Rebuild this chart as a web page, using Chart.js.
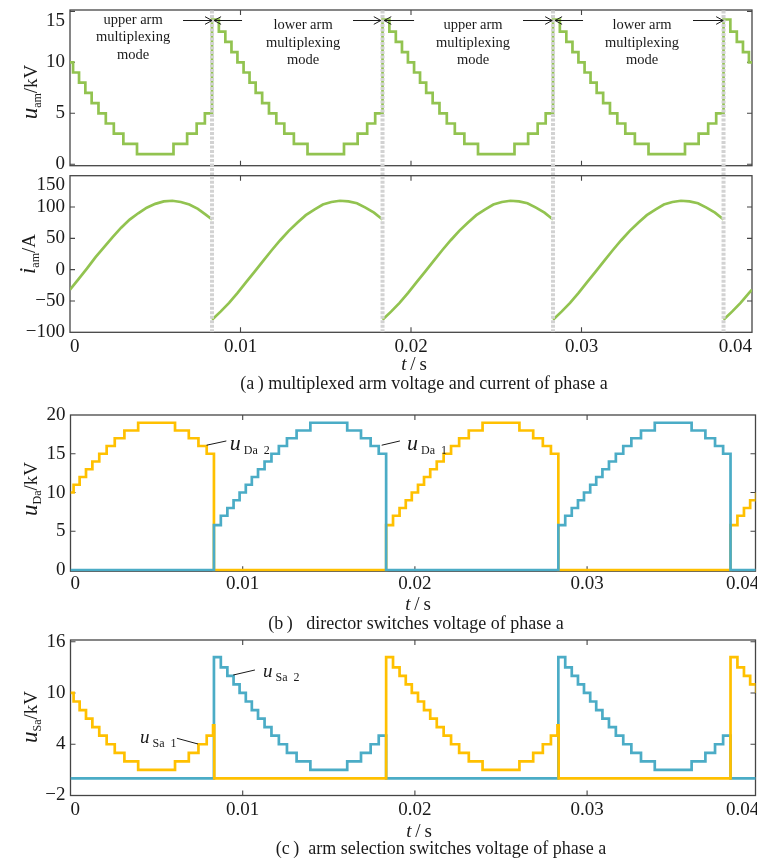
<!DOCTYPE html>
<html><head><meta charset="utf-8">
<script src="https://cdn.jsdelivr.net/npm/chart.js@4.4.1/dist/chart.umd.min.js"></script>
<style>
html,body{margin:0;padding:0;background:#fff;width:757px;height:859px;overflow:hidden;}
#wrap{position:relative;width:757px;height:859px;}
canvas{position:absolute;left:0;}
.txt{position:absolute;font-family:"Liberation Serif","Times New Roman",serif;color:#1a1a1a;white-space:nowrap;line-height:1;transform:translate(-50%,-50%);}
.ylab{position:absolute;font-family:"Liberation Serif","Times New Roman",serif;font-size:19px;color:#1a1a1a;white-space:nowrap;line-height:1;transform:translate(-50%,-50%) rotate(-90deg);}
.ylab i{font-size:23px;}
.ylab .sb{font-size:12px;position:relative;top:4px;}
</style></head>
<body>
<div id="wrap">
<canvas id="c1" style="top:0px" width="757" height="185"></canvas>
<canvas id="c2" style="top:160px" width="757" height="215"></canvas>
<canvas id="c3" style="top:395px" width="757" height="205"></canvas>
<canvas id="c4" style="top:625px" width="757" height="200"></canvas>

<div class="ylab" style="left:29px;top:92px"><i>u</i><span class="sb">am</span>/kV</div>
<div class="ylab" style="left:27px;top:254px"><i>i</i><span class="sb">am</span>/A</div>
<div class="ylab" style="left:29px;top:489px"><i>u</i><span class="sb">Da</span>/kV</div>
<div class="ylab" style="left:29px;top:717px"><i>u</i><span class="sb">Sa</span>/kV</div>

<div class="txt" style="left:414px;top:363px;font-size:19px"><i>t</i>&thinsp;/&thinsp;s</div>
<div class="txt" style="left:424px;top:383px;font-size:18px">(a&thinsp;) multiplexed arm voltage and current of phase a</div>
<div class="txt" style="left:418px;top:603px;font-size:19px"><i>t</i>&thinsp;/&thinsp;s</div>
<div class="txt" style="left:416px;top:623px;font-size:18px">(b&thinsp;) &nbsp; director switches voltage of phase a</div>
<div class="txt" style="left:419px;top:830px;font-size:19px"><i>t</i>&thinsp;/&thinsp;s</div>
<div class="txt" style="left:441px;top:848px;font-size:18px">(c&thinsp;) &nbsp;arm selection switches voltage of phase a</div>
</div>
<script>
// ---------------- data ----------------
const switchTimes = [0.00833, 0.01833, 0.02833, 0.03833];

const tAm = [0,0.00018,0.00053,0.00090,0.00127,0.00167,0.00210,0.00257,0.00313,0.00393,0.00607,0.00687,0.00743,0.00791,
 0.00833,0.00873,0.00911,0.00947,0.00982,0.01018,0.01053,0.01089,0.01127,0.01167,0.01210,0.01257,0.01313,0.01393,0.01607,0.01687,0.01743,0.01790,
 0.01833,0.01873,0.01911,0.01947,0.01982,0.02018,0.02053,0.02089,0.02127,0.02167,0.02210,0.02257,0.02313,0.02393,0.02607,0.02687,0.02743,0.02790,
 0.02833,0.02873,0.02911,0.02947,0.02982,0.03018,0.03053,0.03089,0.03127,0.03167,0.03210,0.03257,0.03313,0.03393,0.03607,0.03687,0.03743,0.03790,
 0.03833,0.03873,0.03911,0.03947,0.03982,0.04];
const uAm = [10,9,8,7,6,5,4,3,2,1,2,3,4,5,
 14.2,13,12,11,10,9,8,7,6,5,4,3,2,1,2,3,4,5,
 14.2,13,12,11,10,9,8,7,6,5,4,3,2,1,2,3,4,5,
 14.2,13,12,11,10,9,8,7,6,5,4,3,2,1,2,3,4,5,
 14.2,13,12,11,10,10];

const tI = [0,0.0005,0.001,0.0015,0.002,0.0025,0.003,0.0035,0.004,0.0045,0.005,0.0055,0.006,0.0065,0.007,0.0075,0.008,0.00833, 0.00833,
 0.00833,0.00883,0.00933,0.00983,0.01033,0.01083,0.01133,0.01183,0.01233,0.01283,0.01333,0.01383,0.01433,0.01483,0.01533,0.01583,0.01633,0.01683,0.01733,0.01783,0.01833, 0.01833,
 0.01833,0.01883,0.01933,0.01983,0.02033,0.02083,0.02133,0.02183,0.02233,0.02283,0.02333,0.02383,0.02433,0.02483,0.02533,0.02583,0.02633,0.02683,0.02733,0.02783,0.02833, 0.02833,
 0.02833,0.02883,0.02933,0.02983,0.03033,0.03083,0.03133,0.03183,0.03233,0.03283,0.03333,0.03383,0.03433,0.03483,0.03533,0.03583,0.03633,0.03683,0.03733,0.03783,0.03833, 0.03833,
 0.03833,0.03883,0.03933,0.03983,0.04];
const iAm = [-32,-15,2,20,36,52,67,80,90,99,105,109,110,108,104,97,87,80, null,
 -80,-67,-53,-37,-20,-3,14,31,47,62,75,87,96,104,108,110,109,106,99,91,80, null,
 -80,-67,-53,-37,-20,-3,14,31,47,62,75,87,96,104,108,110,109,106,99,91,80, null,
 -80,-67,-53,-37,-20,-3,14,31,47,62,75,87,96,104,108,110,109,106,99,91,80, null,
 -80,-67,-53,-37,-32];

const tDa2 = [0,0.00018,0.00053,0.00090,0.00127,0.00167,0.00210,0.00257,0.00313,0.00393,0.00607,0.00687,0.00743,0.00791,
 0.00833,
 0.01833,0.01873,0.01911,0.01947,0.01982,0.02018,0.02053,0.02089,0.02127,0.02167,0.02210,0.02257,0.02313,0.02393,0.02607,0.02687,0.02743,0.02790,
 0.02833,
 0.03833,0.03873,0.03911,0.03947,0.03982,0.04];
const uDa2 = [10,11,12,13,14,15,16,17,18,19,18,17,16,15,
 0,
 5.8,7,8,9,10,11,12,13,14,15,16,17,18,19,18,17,16,15,
 0,
 5.8,7,8,9,10,10];
const tDa1 = [0,
 0.00833,0.00873,0.00911,0.00947,0.00982,0.01018,0.01053,0.01089,0.01127,0.01167,0.01210,0.01257,0.01313,0.01393,0.01607,0.01687,0.01743,0.01790,
 0.01833,
 0.02833,0.02873,0.02911,0.02947,0.02982,0.03018,0.03053,0.03089,0.03127,0.03167,0.03210,0.03257,0.03313,0.03393,0.03607,0.03687,0.03743,0.03790,
 0.03833,0.04];
const uDa1 = [0,
 5.8,7,8,9,10,11,12,13,14,15,16,17,18,19,18,17,16,15,
 0,
 5.8,7,8,9,10,11,12,13,14,15,16,17,18,19,18,17,16,15,
 0,0];

const tSa1 = [0,0.00018,0.00053,0.00090,0.00127,0.00167,0.00210,0.00257,0.00313,0.00393,0.00607,0.00687,0.00743,0.00791,
 0.00828,0.00835,
 0.01833,0.01873,0.01911,0.01947,0.01982,0.02018,0.02053,0.02089,0.02127,0.02167,0.02210,0.02257,0.02313,0.02393,0.02607,0.02687,0.02743,0.02790,
 0.02828,0.02835,
 0.03833,0.03873,0.03911,0.03947,0.03982,0.04];
const uSa1 = [10,9,8,7,6,5,4,3,2,1,2,3,4,5,
 6.2,0,
 14.2,13,12,11,10,9,8,7,6,5,4,3,2,1,2,3,4,5,
 6.2,0,
 14.2,13,12,11,10,10];
const tSa2 = [0,
 0.00833,0.00873,0.00911,0.00947,0.00982,0.01018,0.01053,0.01089,0.01127,0.01167,0.01210,0.01257,0.01313,0.01393,0.01607,0.01687,0.01743,0.01790,
 0.01833,
 0.02833,0.02873,0.02911,0.02947,0.02982,0.03018,0.03053,0.03089,0.03127,0.03167,0.03210,0.03257,0.03313,0.03393,0.03607,0.03687,0.03743,0.03790,
 0.03833,0.04];
const uSa2 = [0,
 14.2,13,12,11,10,9,8,7,6,5,4,3,2,1,2,3,4,5,
 0,
 14.2,13,12,11,10,9,8,7,6,5,4,3,2,1,2,3,4,5,
 0,0];

const xTicks = [0, 0.01, 0.02, 0.03, 0.04];
const yTicksUam = [0, 5, 10, 15];
const yTicksIam = [-100, -50, 0, 50, 100, 150];
const yTicksDa = [0, 5, 10, 15, 20];
const yTicksSa = [-2, 4, 10, 16];

const modeLabels = [
  {t:0.0037,  lines:['upper arm','multiplexing','mode']},
  {t:0.01367, lines:['lower arm','multiplexing','mode']},
  {t:0.02364, lines:['upper arm','multiplexing','mode']},
  {t:0.03355, lines:['lower arm','multiplexing','mode']}
];

// ---------------- styles ----------------
const SERIF = '"Liberation Serif","Times New Roman",serif';
const GREEN = '#92c350', YELLOW = '#ffc000', BLUE = '#4bacc6', GRAY = '#d2d2d2';
const INK = '#1a1a1a';

// annotation layout (positions in data units, styles separate)
const annots = {
  c1: {
    texts: [
      {t:modeLabels[0].t, v:14.15, lines:modeLabels[0].lines},
      {t:modeLabels[1].t, v:13.6, lines:modeLabels[1].lines},
      {t:modeLabels[2].t, v:13.6, lines:modeLabels[2].lines},
      {t:modeLabels[3].t, v:13.6, lines:modeLabels[3].lines}
    ],
    arrows: [[0.00663,0.00833],[0.01009,0.00845],[0.0166,0.01823],[0.02018,0.01843],[0.02657,0.02828],[0.03009,0.02845],[0.03654,0.03831]],
    arrowV: 14.1
  },
  c3: {
    leaders: [[[0.0079,16.1],[0.00905,16.65]], [[0.01807,16.1],[0.01913,16.65]]],
    rich: [
      {t:0.00925, v:15.5, size:22, sub:'Da  2'},
      {t:0.01954, v:15.5, size:22, sub:'Da  1'}
    ]
  },
  c4: {
    leaders: [[[0.00945,12.1],[0.01071,12.69]], [[0.00618,4.7],[0.0074,4.03]]],
    rich: [
      {t:0.01118, v:11.87, size:19, sub:'Sa  2'},
      {t:0.00404, v:4.18, size:19, sub:'Sa  1'}
    ]
  }
};

// ---------------- plugins ----------------
const framePlugin = {
  id:'frame',
  beforeDatasetsDraw(chart){
    const {ctx, chartArea:a, scales:{x, y}} = chart;
    ctx.save();
    ctx.strokeStyle = '#454545';
    ctx.lineWidth = 1.3;
    ctx.strokeRect(a.left, a.top, a.right - a.left, a.bottom - a.top);
    ctx.lineWidth = 1.1;
    const L = 5;
    ctx.beginPath();
    x.ticks.forEach(tk => {
      const px = x.getPixelForValue(tk.value);
      if (px <= a.left + 1 || px >= a.right - 1) return;
      ctx.moveTo(px, a.bottom); ctx.lineTo(px, a.bottom - L);
      ctx.moveTo(px, a.top); ctx.lineTo(px, a.top + L);
    });
    y.ticks.forEach(tk => {
      const py = y.getPixelForValue(tk.value);
      if (py <= a.top + 1 || py >= a.bottom - 1) return;
      ctx.moveTo(a.left, py); ctx.lineTo(a.left + L, py);
      ctx.moveTo(a.right, py); ctx.lineTo(a.right - L, py);
    });
    ctx.stroke();
    ctx.restore();
  }
};

function drawArrow(ctx, x1, y1, x2, y2){
  const ang = Math.atan2(y2 - y1, x2 - x1), L = 8, W = 0.5;
  ctx.beginPath();
  ctx.moveTo(x1, y1); ctx.lineTo(x2, y2);
  ctx.moveTo(x2 - L*Math.cos(ang - W), y2 - L*Math.sin(ang - W));
  ctx.lineTo(x2, y2);
  ctx.lineTo(x2 - L*Math.cos(ang + W), y2 - L*Math.sin(ang + W));
  ctx.stroke();
}

const annotPlugin = {
  id:'annotDraw',
  afterDatasetsDraw(chart){
    const o = annots[chart.canvas.id];
    if (!o) return;
    const {ctx, scales:{x, y}} = chart;
    ctx.save();
    ctx.fillStyle = INK; ctx.strokeStyle = INK; ctx.lineWidth = 1;
    (o.texts || []).forEach(a => {
      ctx.font = '14.5px ' + SERIF;
      ctx.textAlign = 'center'; ctx.textBaseline = 'middle';
      const px = x.getPixelForValue(a.t), py = y.getPixelForValue(a.v);
      a.lines.forEach((ln, k) => ctx.fillText(ln, px, py + k*17.5));
    });
    (o.arrows || []).forEach(ar => {
      const py = y.getPixelForValue(o.arrowV);
      drawArrow(ctx, x.getPixelForValue(ar[0]), py, x.getPixelForValue(ar[1]), py);
    });
    (o.leaders || []).forEach(ld => {
      ctx.beginPath();
      ctx.moveTo(x.getPixelForValue(ld[0][0]), y.getPixelForValue(ld[0][1]));
      ctx.lineTo(x.getPixelForValue(ld[1][0]), y.getPixelForValue(ld[1][1]));
      ctx.stroke();
    });
    (o.rich || []).forEach(r => {
      let px = x.getPixelForValue(r.t);
      const py = y.getPixelForValue(r.v);
      ctx.textAlign = 'left'; ctx.textBaseline = 'alphabetic';
      ctx.font = 'italic ' + r.size + 'px ' + SERIF;
      ctx.fillText('u', px, py);
      px += ctx.measureText('u').width + 3;
      ctx.font = '12px ' + SERIF;
      ctx.fillText(r.sub, px, py + 4);
    });
    ctx.restore();
  }
};

// ---------------- helpers ----------------
function pts(ts, vs){ return ts.map((t, k) => ({x:t, y:vs[k]})); }
function stepDs(ts, vs, color){
  return {data:pts(ts, vs), borderColor:color, borderWidth:2.7, pointRadius:0, stepped:'before', fill:false};
}
function lineDs(ts, vs, color){
  return {data:pts(ts, vs), borderColor:color, borderWidth:2.7, pointRadius:0, tension:0, spanGaps:false, fill:false};
}
function grayDs(lo, hi, clip){
  return switchTimes.map(s => ({data:[{x:s, y:lo}, {x:s, y:hi}], borderColor:GRAY, borderWidth:4,
    borderDash:[3, 1.5], pointRadius:0, clip:clip}));
}
function fmtX(v){ return v === 0 ? '0' : v.toFixed(2); }
function fmtY(v){ return v < 0 ? '\u2212' + Math.abs(v) : String(v); }

function makeChart(id, o){
  return new Chart(document.getElementById(id), {
    type:'line',
    data:{datasets:o.datasets},
    options:{
      responsive:false, animation:false, events:[],
      layout:{padding:o.padding},
      plugins:{legend:{display:false}, tooltip:{enabled:false}},
      scales:{
        x:{type:'linear', min:o.xmin, max:o.xmax,
          grid:{display:false, drawTicks:false}, border:{display:false},
          ticks:{display:o.xLabels, font:{family:SERIF, size:19}, color:INK, padding:o.xPad,
                 align:'inner', autoSkip:false, maxRotation:0, callback:fmtX},
          afterBuildTicks:s => { s.ticks = xTicks.map(v => ({value:v})); },
          afterFit:s => { s.height = o.xH; s.paddingLeft = 0; s.paddingRight = 0; }},
        y:{type:'linear', min:o.ymin, max:o.ymax,
          grid:{display:false, drawTicks:false}, border:{display:false},
          ticks:{font:{family:SERIF, size:19, lineHeight:1.0}, color:INK, padding:5, autoSkip:false,
                 callback:(v) => (o.dropTop && v === o.yTicks[o.yTicks.length - 1]) ? ['', fmtY(v)] : fmtY(v)},
          afterBuildTicks:s => { s.ticks = o.yTicks.map(v => ({value:v})); },
          afterFit:s => { s.width = o.yW; s.paddingTop = 0; s.paddingBottom = 0; }}
      }
    },
    plugins:[framePlugin, annotPlugin]
  });
}

// ---------------- charts ----------------
makeChart('c1', {
  datasets:[...grayDs(-1.1, 15.2, {left:0, right:0, top:0, bottom:false}), stepDs(tAm, uAm, GREEN)],
  padding:{top:10, bottom:19.3, left:0, right:5},
  xmin:0, xmax:0.04, ymin:-0.14, ymax:15.13, yTicks:yTicksUam, dropTop:true, xLabels:false, xPad:0, xH:0, yW:70
});
makeChart('c2', {
  datasets:[...grayDs(-100, 150, 0), lineDs(tI, iAm, GREEN)],
  padding:{top:15.7, bottom:0, left:0, right:5},
  xmin:0, xmax:0.04, ymin:-100, ymax:150, yTicks:yTicksIam, dropTop:true, xLabels:true, xPad:3, xH:42.7, yW:70
});
makeChart('c3', {
  datasets:[stepDs(tDa1, uDa1, BLUE), stepDs(tDa2, uDa2, YELLOW)],
  padding:{top:20, bottom:0, left:0, right:1.5},
  xmin:0, xmax:0.03978, ymin:-0.15, ymax:20, yTicks:yTicksDa, dropTop:false, xLabels:true, xPad:1, xH:28.8, yW:70.5
});
makeChart('c4', {
  datasets:[stepDs(tSa1, uSa1, YELLOW), stepDs(tSa2, uSa2, BLUE)],
  padding:{top:15, bottom:0, left:0, right:1.5},
  xmin:0, xmax:0.03978, ymin:-2, ymax:16.2, yTicks:yTicksSa, dropTop:false, xLabels:true, xPad:3, xH:29.5, yW:70.5
});
</script>
</body></html>
